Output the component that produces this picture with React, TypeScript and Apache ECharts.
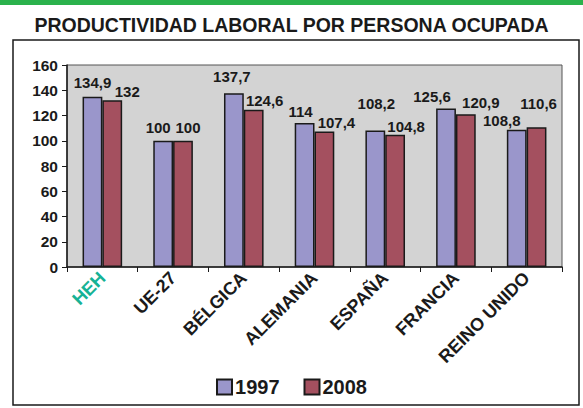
import React, { useEffect, useRef } from "react";
import * as echarts from "echarts";

const categories = ["HEH", "UE-27", "BÉLGICA", "ALEMANIA", "ESPAÑA", "FRANCIA", "REINO UNIDO"];
const values1997 = [134.9, 100, 137.7, 114, 108.2, 125.6, 108.8];
const values2008 = [132, 100, 124.6, 107.4, 104.8, 120.9, 110.6];
const seriesNames = ["1997", "2008"];
const yTicks = { min: 0, max: 160, interval: 20 };
const titleText = "PRODUCTIVIDAD LABORAL POR PERSONA OCUPADA";

// label nudges (style only, not data)
const offsets1997 = [[0, -2], [-5, -1], [-2, -4], [-4, 1], [1, -14], [-14, 1], [-15, 3]];
const offsets2008 = [[15, 4], [5, -1], [11, 3], [12, 4], [11, 4], [15, 1], [2, -11]];

const fmt = (v: number) => String(v).replace(".", ",");

export default function App() {
  const ref = useRef<HTMLDivElement>(null);
  useEffect(() => {
    document.body.style.margin = "0";
    const chart = echarts.init(ref.current!, null, { renderer: "svg" });
    const font = "Liberation Sans, Arial, Helvetica, sans-serif";
    const mk = (vals: number[], offs: number[][], color: string, name: string) => ({
      name,
      type: "bar",
      barGap: "0%",
      barCategoryGap: "44%",
      itemStyle: { color, borderColor: "#1a1a1a", borderWidth: 1.5 },
      data: vals.map((v, i) => ({
        value: v,
        label: { offset: offs[i] },
      })),
      label: {
        show: true,
        position: "top",
        distance: 5,
        formatter: (p: any) => fmt(p.value),
        fontFamily: font,
        fontWeight: "bold",
        fontSize: 15,
        color: "#1a1a1a",
      },
    });
    chart.setOption({
      animation: false,
      backgroundColor: "#ffffff",
      textStyle: { fontFamily: font },
      title: {
        text: titleText,
        left: "center",
        top: 10,
        textStyle: { fontFamily: font, fontWeight: "bold", fontSize: 19.5, color: "#1a1a1a" },
      },
      graphic: [
        { type: "rect", shape: { x: 0, y: 0, width: 583, height: 5 }, style: { fill: "#2BB24C" } },
        {
          type: "rect",
          shape: { x: 13, y: 40, width: 566, height: 365 },
          style: { fill: "none", stroke: "#1a1a1a", lineWidth: 1.5 },
          z: -1,
        },
      ],
      legend: {
        bottom: 6,
        left: "center",
        icon: "rect",
        itemWidth: 15,
        itemHeight: 15,
        itemGap: 24,
        data: seriesNames,
        itemStyle: { borderColor: "#1a1a1a", borderWidth: 2 },
        textStyle: { fontFamily: font, fontWeight: "bold", fontSize: 20, color: "#1a1a1a", padding: [0, 0, 0, -2] },
      },
      grid: {
        left: 67,
        right: 21,
        top: 65,
        bottom: 141,
        show: true,
        backgroundColor: "#D3D3D3",
        borderColor: "#555555",
        borderWidth: 1,
      },
      xAxis: {
        type: "category",
        data: categories,
        axisLine: { lineStyle: { color: "#1a1a1a", width: 1.5 } },
        axisTick: { show: true, length: 5, lineStyle: { color: "#1a1a1a" } },
        axisLabel: {
          rotate: 45,
          interval: 0,
          margin: 8,
          fontFamily: font,
          fontWeight: "bold",
          fontSize: 18,
          color: "#1a1a1a",
          formatter: (v: string) => (v === "HEH" ? `{h|${v}}` : v),
          rich: {
            h: { color: "#16B295", fontWeight: "bold", fontSize: 18, fontFamily: font },
          },
        },
      },
      yAxis: {
        type: "value",
        min: yTicks.min,
        max: yTicks.max,
        interval: yTicks.interval,
        splitLine: { show: false },
        axisLine: { show: true, lineStyle: { color: "#1a1a1a", width: 1.5 } },
        axisTick: { show: true, length: 5, lineStyle: { color: "#1a1a1a" } },
        axisLabel: { fontFamily: font, fontWeight: "bold", fontSize: 15.5, color: "#1a1a1a", margin: 9 },
      },
      series: [
        mk(values1997, offsets1997, "#9A96CB", seriesNames[0]),
        mk(values2008, offsets2008, "#A4505F", seriesNames[1]),
      ],
    });
    return () => chart.dispose();
  }, []);
  return <div ref={ref} style={{ width: 583, height: 408 }} />;
}
